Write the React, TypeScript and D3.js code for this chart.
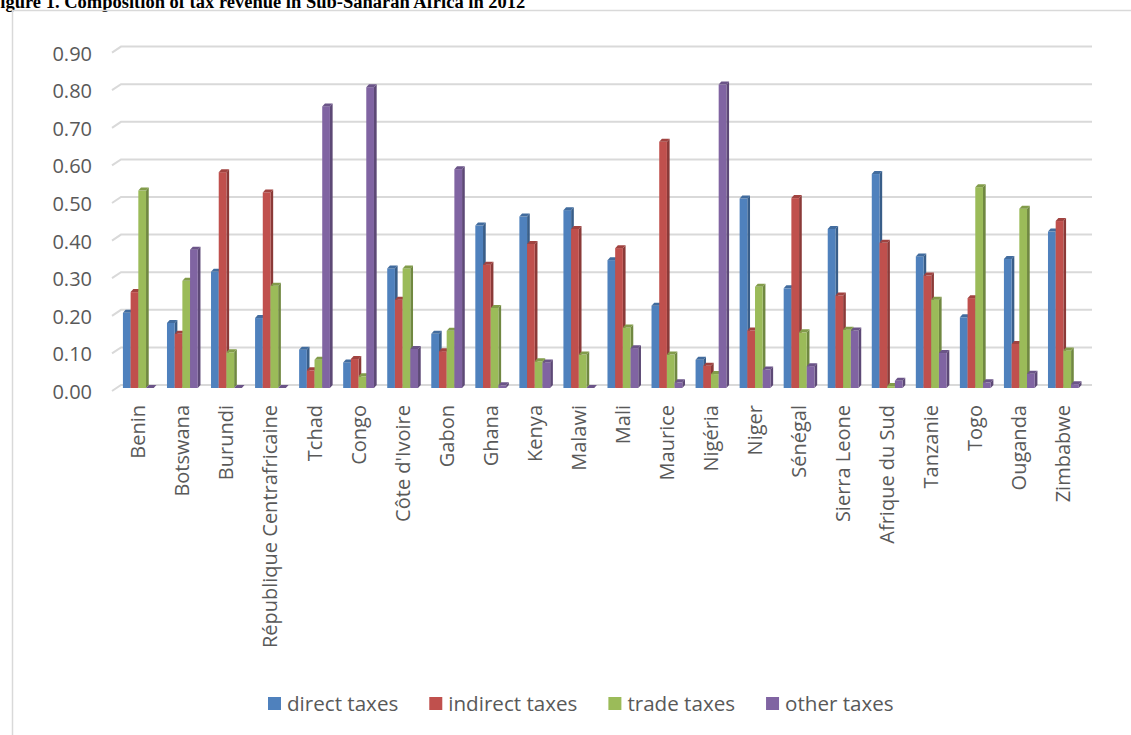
import React, { useEffect, useRef } from 'react';
import * as d3 from 'd3';

const countries = [
  'Benin', 'Botswana', 'Burundi', 'République Centrafricaine', 'Tchad', 'Congo',
  "Côte d'Ivoire", 'Gabon', 'Ghana', 'Kenya', 'Malawi', 'Mali', 'Maurice', 'Nigéria',
  'Niger', 'Sénégal', 'Sierra Leone', 'Afrique du Sud', 'Tanzanie', 'Togo', 'Ouganda', 'Zimbabwe',
];

const directTaxes = [0.20, 0.173, 0.309, 0.186, 0.102, 0.068, 0.318, 0.144, 0.432, 0.456, 0.473,
  0.340, 0.219, 0.075, 0.504, 0.265, 0.423, 0.569, 0.350, 0.188, 0.343, 0.416];
const indirectTaxes = [0.255, 0.144, 0.574, 0.52, 0.047, 0.077, 0.235, 0.098, 0.328, 0.383, 0.423,
  0.372, 0.655, 0.059, 0.153, 0.505, 0.246, 0.386, 0.299, 0.239, 0.117, 0.444];
const tradeTaxes = [0.525, 0.285, 0.095, 0.272, 0.075, 0.031, 0.318, 0.152, 0.213, 0.071, 0.089,
  0.161, 0.089, 0.037, 0.269, 0.148, 0.155, 0.005, 0.235, 0.534, 0.477, 0.10];
const otherTaxes = [0, 0.368, 0, 0, 0.749, 0.80, 0.104, 0.582, 0.007, 0.068, 0,
  0.106, 0.015, 0.807, 0.049, 0.058, 0.153, 0.019, 0.093, 0.015, 0.038, 0.01];

const seriesNames = ['direct taxes', 'indirect taxes', 'trade taxes', 'other taxes'];
const seriesValues = [directTaxes, indirectTaxes, tradeTaxes, otherTaxes];
const seriesColors = ['#4F81BD', '#C0504D', '#9BBB59', '#8064A2'];
const yTicks = [0, 0.1, 0.2, 0.3, 0.4, 0.5, 0.6, 0.7, 0.8, 0.9];

const title = 'Figure 1. Composition of tax revenue in Sub-Saharan Africa in 2012';

const App = () => {
  const svgRef = useRef<SVGSVGElement>(null);

  useEffect(() => {
    const svg = d3.select(svgRef.current);
    svg.selectAll('*').remove();

    const width = 1131;
    const height = 735;
    const font = "'Open Sans', sans-serif";
    const textColor = '#595959';
    const gridColor = '#D9D9D9';

    // 3D offsets: floor depth for gridlines, bar depth for columns
    const wallDx = 9, wallDy = 6;
    const barDx = 2.7, barDy = 3;
    const gridLeft = 112, gridRight = 1092;

    const x0 = d3.scaleBand().domain(countries).range([116.3, 1085.4]);
    const x1 = d3.scaleBand().domain(seriesNames).range([-15.4, 15.4]);
    const y = d3.scaleLinear().domain([0, 0.9]).range([385, 46.6]);

    // title (cut off at top like the source)
    svg.append('text')
      .attr('x', -11).attr('y', 7.5)
      .attr('font-family', "'Liberation Serif', serif")
      .attr('font-weight', 'bold')
      .attr('font-size', 18.5)
      .attr('fill', '#000')
      .text(title);

    // chart frame
    svg.append('path')
      .attr('d', `M12.5,${height} L12.5,10.5 L${width},10.5`)
      .attr('fill', 'none')
      .attr('stroke', gridColor)
      .attr('stroke-width', 1.5);

    // gridlines with perspective floor edge
    const grid = svg.append('g');
    grid.selectAll('path')
      .data(yTicks)
      .join('path')
      .attr('d', d => `M${gridLeft},${y(d) + wallDy} L${gridLeft + wallDx},${y(d)} L${gridRight},${y(d)}`)
      .attr('fill', 'none')
      .attr('stroke', gridColor)
      .attr('stroke-width', 2);

    // y labels
    svg.append('g')
      .selectAll('text')
      .data(yTicks)
      .join('text')
      .attr('x', 92)
      .attr('y', d => y(d) + wallDy + 1)
      .attr('dy', '0.35em')
      .attr('text-anchor', 'end')
      .attr('font-family', font)
      .attr('font-size', 20)
      .attr('fill', textColor)
      .text(d => d3.format('.2f')(d));

    // bars
    const bars = countries.flatMap((c, i) =>
      seriesNames.map((s, j) => ({ c, s, j, v: seriesValues[j][i] })));

    const barW = x1.bandwidth();
    const g = svg.append('g');
    bars.forEach(d => {
      const bx = x0(d.c)! + x0.bandwidth() / 2 + x1(d.s)!;
      const base = y(0) + barDy;
      const top = y(d.v) + barDy;
      const col = d3.color(seriesColors[d.j])!;
      const dark = col.darker(0.9).formatHex();
      const mid = col.darker(0.5).formatHex();
      // side face
      g.append('path')
        .attr('d', `M${bx + barW},${base} L${bx + barW},${top} L${bx + barW + barDx},${top - barDy} L${bx + barW + barDx},${base - barDy} Z`)
        .attr('fill', dark);
      // front face
      g.append('rect')
        .attr('x', bx).attr('y', top)
        .attr('width', barW).attr('height', Math.max(0, base - top))
        .attr('fill', seriesColors[d.j]);
      // top face
      g.append('path')
        .attr('d', `M${bx},${top} L${bx + barW},${top} L${bx + barW + barDx},${top - barDy} L${bx + barDx},${top - barDy} Z`)
        .attr('fill', mid);
    });

    // category labels
    svg.append('g')
      .selectAll('text')
      .data(countries)
      .join('text')
      .attr('transform', d => `translate(${x0(d)! + x0.bandwidth() / 2 + 7},405) rotate(-90)`)
      .attr('text-anchor', 'end')
      .attr('font-family', font)
      .attr('font-size', 20)
      .attr('fill', textColor)
      .text(d => d);

    // legend
    const legend = svg.append('g');
    let lx = 268;
    seriesNames.forEach((name, j) => {
      legend.append('rect')
        .attr('x', lx).attr('y', 697)
        .attr('width', 13).attr('height', 13)
        .attr('fill', seriesColors[j]);
      const t = legend.append('text')
        .attr('x', lx + 19).attr('y', 704)
        .attr('dy', '0.35em')
        .attr('font-family', font)
        .attr('font-size', 20.6)
        .attr('fill', textColor)
        .text(name);
      const w = (t.node() as SVGTextElement).getComputedTextLength();
      lx = lx + 19 + w + 31;
    });
  }, []);

  return (
    <div style={{ position: 'absolute', left: 0, top: 0 }}>
      <svg ref={svgRef} width={1131} height={735} style={{ display: 'block', background: '#fff' }} />
    </div>
  );
};

export default App;
